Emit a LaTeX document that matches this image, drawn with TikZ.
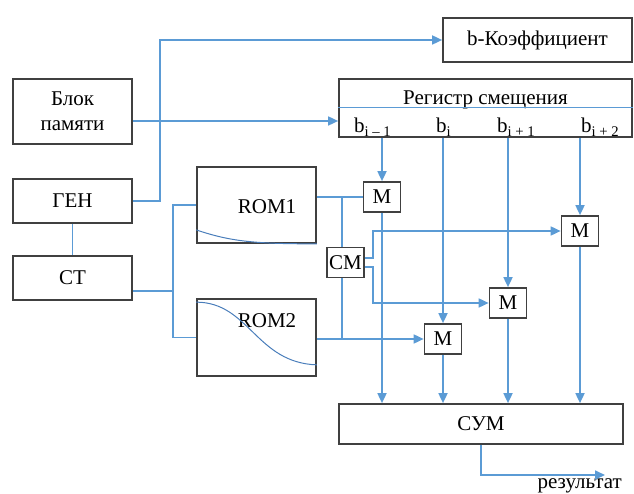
\documentclass[tikz,border=0pt]{standalone}
\usepackage{fontspec}
\setmainfont{Liberation Serif}
\usetikzlibrary{arrows.meta,calc,positioning}
\definecolor{linkblue}{HTML}{5B9BD5}
\definecolor{curveblue}{HTML}{4A7EBB}
\definecolor{boxgray}{HTML}{404040}
\tikzset{
  blk/.style={draw=boxgray,line width=1.7pt,minimum width=119pt,inner sep=2pt,align=center},
  mbox/.style={draw=boxgray,line width=1.7pt,minimum width=37pt,minimum height=30pt,inner sep=0pt},
  link/.style={linkblue,line width=1.7pt},
  feed/.style={link,-{Triangle[length=10pt,width=9pt]}},
  romcurve/.style={curveblue,line width=1pt}
}

\begin{document}
\begin{tikzpicture}[x=1pt,y=-1pt,font=\fontsize{21}{25}\selectfont]
\useasboundingbox (0,0) rectangle (634,494);
% left column
\node[blk,minimum height=65pt] (mem) at (72.5,111.5) {Блок\\памяти};
\node[blk,minimum height=44pt] (gen) at (72.5,201) {ГЕН};
\node[blk,minimum height=44pt] (ct) at (72.5,278) {СТ};
% tables
\node[blk,minimum height=76pt] (rom1) at (256.5,205) {};
\node (rom1txt) at (267,207) {ROM1};
\node[blk,minimum height=77pt] (rom2) at (256.5,337.5) {};
\node (rom2txt) at (267,321) {ROM2};
\draw[romcurve] ($(rom1.south west)+(0,-14)$) .. controls +(35,12) and +(-60,0) .. (rom1.south east);
\draw[romcurve] ($(rom2.north west)+(0,4)$) .. controls +(53,0) and +(-61,-2) .. ($(rom2.south east)+(0,-12)$);
% register and coefficient
\node[blk,minimum width=189pt,minimum height=44pt] (koef) at (537.5,40) {b-Коэффициент};
\node[blk,minimum width=293pt,minimum height=58pt] (reg) at (485.5,108) {};
\node[anchor=base] (regtitle) at (485.5,104.5) {Регистр смещения};
\draw[linkblue,line width=1pt] (reg.west) -- (reg.east);
\node[anchor=base west,inner sep=0] (b1) at (354,133) {b\textsubscript{i – 1}};
\node[anchor=base west,inner sep=0] (b2) at (436,133) {b\textsubscript{i}};
\node[anchor=base west,inner sep=0] (b3) at (497,133) {b\textsubscript{i + 1}};
\node[anchor=base west,inner sep=0] (b4) at (581,133) {b\textsubscript{i + 2}};
% multipliers
\node[mbox] (m1) at (382,197) {М};
\node[mbox] (m2) at (443,339) {М};
\node[mbox] (m3) at (508,303) {М};
\node[mbox] (m4) at (580,231) {М};
\node[mbox] (cm) at (345.5,262.5) {СМ};
\node[blk,minimum width=284pt,minimum height=40pt] (sum) at (481,424) {СУМ};
\coordinate (res) at (605,475);
\node[anchor=base east,inner sep=0] (restxt) at (622,488) {результат};
% connectors
\draw[link] (gen.south) -- (ct.north);
\draw[feed] (gen.east) -- ++(27,0) |- (koef.west);
\coordinate (memout) at ($(mem.east)+(0,9.5)$);
\draw[feed] (memout) -- (memout -| reg.west);
\coordinate (ctout) at ($(ct.east)+(40,13)$);
\draw[link] ($(ct.east)+(0,13)$) -- (ctout);
\draw[link] (rom1.west) -| (ctout) |- (rom2.west);
\draw[link] (m1.west -| rom1.east) -- (m1.west);
\draw[feed] (m2.west -| rom2.east) -- (m2.west);
\coordinate (j1) at ($(m1.west -| rom1.east)+(25,0)$);
\coordinate (j2) at ($(m2.west -| rom2.east)+(25,0)$);
\draw[link] (j1) -- (j1 |- cm.north);
\draw[link] (j2 |- cm.south) -- (j2);
\draw[feed] ($(cm.east)+(0,-4.5)$) -- ++(8,0) |- (m4.west);
\draw[feed] ($(cm.east)+(0,4.5)$) -- ++(8,0) |- (m3.west);
\foreach \m in {m1,m2,m3,m4} {
  \draw[feed] (\m |- reg.south) -- (\m.north);
  \draw[feed] (\m.south) -- (\m |- sum.north);
}
\draw[feed] (sum.south) |- (res);
\end{tikzpicture}
\end{document}
